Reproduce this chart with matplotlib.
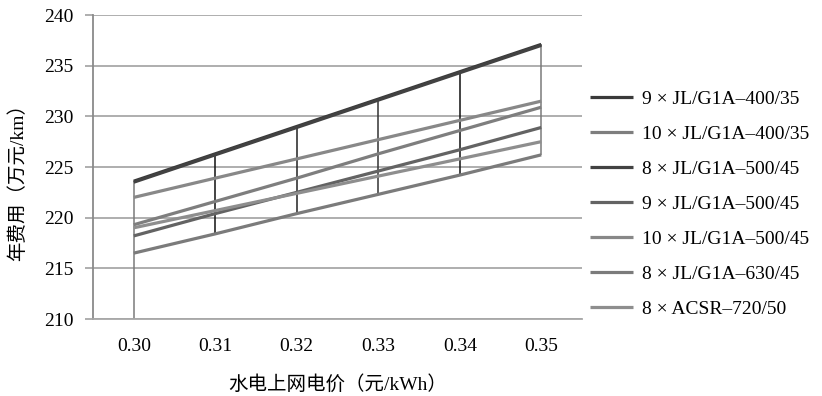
import matplotlib
matplotlib.use("Agg")
import matplotlib.pyplot as plt
import numpy as np

prices = ["0.30", "0.31", "0.32", "0.33", "0.34", "0.35"]
labels = ["9 × JL/G1A–400/35", "10 × JL/G1A–400/35", "8 × JL/G1A–500/45",
          "9 × JL/G1A–500/45", "10 × JL/G1A–500/45", "8 × JL/G1A–630/45",
          "8 × ACSR–720/50"]
s_9_400 = [223.6, 226.3, 229.0, 231.7, 234.4, 237.1]
s_10_400 = [219.3, 221.6, 223.9, 226.3, 228.6, 230.9]
s_8_500 = [223.5, 226.2, 228.9, 231.6, 234.3, 237.0]
s_9_500 = [218.2, 220.4, 222.5, 224.6, 226.7, 228.9]
s_10_500 = [222.0, 223.9, 225.8, 227.7, 229.6, 231.5]
s_8_630 = [216.5, 218.4, 220.4, 222.3, 224.2, 226.2]
s_8_720 = [219.0, 220.7, 222.4, 224.1, 225.8, 227.5]
series = [s_9_400, s_10_400, s_8_500, s_9_500, s_10_500, s_8_630, s_8_720]
colors = ["#3a3a3a", "#7e7e7e", "#424242", "#636363", "#888888", "#7b7b7b", "#8e8e8e"]
yticks = [210, 215, 220, 225, 230, 235, 240]

serif = ["Liberation Serif", "Noto Sans CJK SC"]
plt.rcParams["font.family"] = serif

fig = plt.figure(figsize=(8.22, 3.96), dpi=100)
ax = fig.add_axes([93/822, 1-319/396, 489/822, 304/396])

x = np.arange(len(prices))
ax.set_xlim(-0.5, len(prices) - 0.5)
ax.set_ylim(yticks[0], yticks[-1])
ax.set_yticks(yticks)
ax.grid(axis="y", color="#a8a8a8", linewidth=1.3, zorder=0)
ax.set_axisbelow(True)

arr = np.array(series)
hi = arr.max(axis=0)
lo = arr.min(axis=0)
vcolors = ["#7a7a7a", "#111111", "#222222", "#333333", "#111111", "#7a7a7a"]
for i in x:
    bottom = yticks[0] if i == 0 else lo[i]
    ax.vlines(i, bottom, hi[i], color=vcolors[i], linewidth=1.1, zorder=2)

for vals, lab, c in zip(series, labels, colors):
    ax.plot(x, vals, color=c, linewidth=2.3, label=lab, zorder=3,
            solid_capstyle="butt")

ax.set_xticks(x)
ax.set_xticklabels(prices)
for sp in ["top", "right"]:
    ax.spines[sp].set_visible(False)
ax.spines["left"].set_color("#8a8a8a")
ax.spines["bottom"].set_color("#a8a8a8")
ax.spines["left"].set_linewidth(1.3)
ax.spines["bottom"].set_linewidth(1.3)
ax.tick_params(axis="x", length=0, pad=14, labelsize=14)
ax.tick_params(axis="y", length=6, width=1.3, color="#a8a8a8", pad=8, labelsize=14)

ax.set_ylabel("年费用（万元/km）", fontsize=14, family=["Liberation Serif", "Noto Sans CJK SC"])
ax.yaxis.set_label_coords(-0.135, 0.467)
ax.set_xlabel("水电上网电价（元/kWh）", fontsize=14, family=["Liberation Serif", "Noto Sans CJK SC"])
ax.xaxis.set_label_coords(0.5, -0.185)

fig.legend(loc="center left", bbox_to_anchor=(590/822, 1-204/396), frameon=False,
           fontsize=14, handlelength=2.2, handletextpad=0.45, labelspacing=0.89,
           borderaxespad=0, borderpad=0)

fig.savefig("out.png", dpi=100)
